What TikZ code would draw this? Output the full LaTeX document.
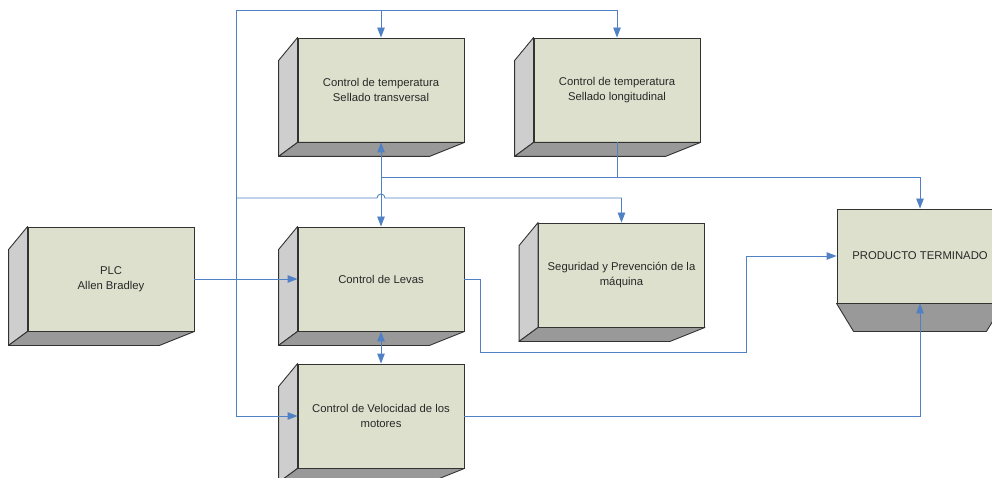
\documentclass[tikz,border=0pt]{standalone}
\usepackage{fontspec}
\setmainfont{Liberation Sans}
\usetikzlibrary{arrows.meta}

\definecolor{facefront}{RGB}{221,224,204}
\definecolor{faceside}{RGB}{206,206,206}
\definecolor{facebottom}{RGB}{153,153,153}
\definecolor{edgecol}{RGB}{50,50,50}
\definecolor{linkblue}{RGB}{79,129,196}
\definecolor{textcol}{RGB}{40,40,40}

\tikzset{
  block/.style={draw=edgecol, line width=0.9pt, fill=facefront,
    minimum width=166pt, minimum height=104pt, inner sep=2pt,
    align=center, text=textcol, font=\fontsize{11.3}{14.5}\selectfont},
  sideface/.style={draw=edgecol, line width=0.9pt, fill=faceside, line join=round},
  bottomface/.style={draw=edgecol, line width=0.9pt, fill=facebottom, line join=round},
  link/.style={draw=linkblue, line width=0.9pt},
  tip/.style={-{Triangle[length=10pt,width=7.5pt]}},
  tips/.style={{Triangle[length=10pt,width=7.5pt]}-{Triangle[length=10pt,width=7.5pt]}}
}

% left and bottom faces of a 3-D block, drawn from the anchors of its front node
\newcommand\blockfaces[1]{%
  \path[sideface] (#1.north west) -- ([shift={(-19,23)}]#1.north west)
    -- ([shift={(-19,14)}]#1.south west) -- (#1.south west) -- cycle;
  \path[bottomface] (#1.south west) -- ([shift={(-19,14)}]#1.south west)
    -- ([shift={(-35,14)}]#1.south east) -- (#1.south east) -- cycle;
}

\begin{document}
\begin{tikzpicture}[x=1pt,y=-1pt]
\useasboundingbox (0,0) rectangle (992,478);

% front faces
\node[block] (plc)    at (111,279)   {PLC\\Allen Bradley};
\node[block] (trans)  at (381,90)    {Control de temperatura\\Sellado transversal};
\node[block] (long)   at (617,90)    {Control de temperatura\\Sellado longitudinal};
\node[block] (levas)  at (381,279)   {Control de Levas};
\node[block] (seg)    at (621.5,275) {Seguridad y Prevención de la\\máquina};
\node[block] (vel)    at (381,416)   {Control de Velocidad de los\\motores};
\node[block, minimum height=94pt] (prod) at (920,256) {PRODUCTO TERMINADO};

% depth faces
\blockfaces{plc}
\blockfaces{trans}
\blockfaces{long}
\blockfaces{levas}
\blockfaces{seg}
\blockfaces{vel}
\path[bottomface] (prod.south west) -- ([shift={(17,28)}]prod.south west)
  -- ([shift={(-17,28)}]prod.south east) -- (prod.south east) -- cycle;

% routing points
\coordinate (tl)    at (236,10);
\coordinate (busa)  at (381,177);
\coordinate (busb)  at (236,198);
\coordinate (hopl)  at (377,198);
\coordinate (kink1) at (480,279);
\coordinate (kink2) at (480,352);
\coordinate (kink3) at (746,352);
\coordinate (kink4) at (746,256);

% connectors
\draw[link,tip] (tl) -| (long.north);
\draw[link,tip] (trans.north |- tl) -- (trans.north);
\draw[link,tip] (tl) |- (vel.west);
\draw[link,tip] (busb) -- (hopl) arc (180:360:4) -| (seg.north);
\draw[link,tips] (trans.south) -- (levas.north);
\draw[link,tip] (busa) -| (prod.north);
\draw[link] (long.south) -- (long.south |- busa);
\draw[link,tip] (plc.east) -- (levas.west);
\draw[link,tips] (levas.south) -- (vel.north);
\draw[link,tip] (levas.east) -- (kink1) -- (kink2) -- (kink3) -- (kink4) -- (prod.west);
\draw[link,tip] (vel.east) -| (prod.south);
\end{tikzpicture}
\end{document}
